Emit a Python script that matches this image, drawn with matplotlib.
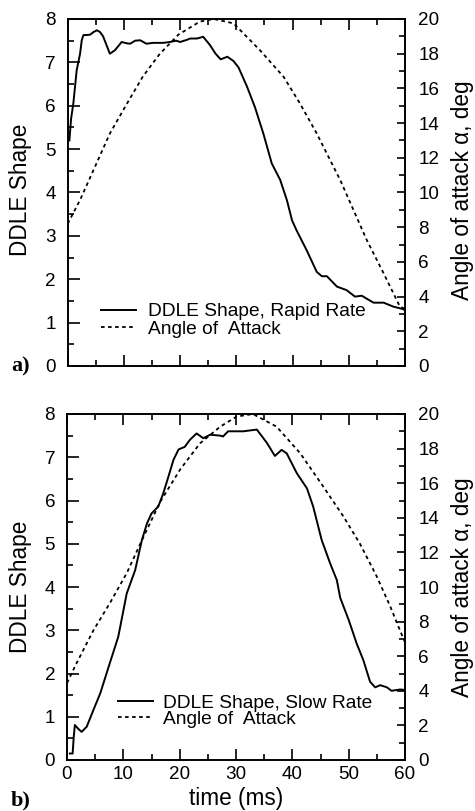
import matplotlib
matplotlib.use("Agg")
import matplotlib.pyplot as plt
from matplotlib.ticker import MultipleLocator

plt.rcParams['font.family'] = ['Liberation Sans', 'DejaVu Sans']

# ---------------- data ----------------
# panel a) rapid rate
t_rapid = [0.3, 0.6, 1.0, 1.6, 2.2, 2.5, 2.8, 3.4, 4.0, 4.6, 5.2, 5.75, 6.3, 6.9, 7.5, 8.4,
           9.6, 10.5, 11.1, 12.0, 12.9, 14.0, 15.2, 17.0, 18.2, 19.3, 20.0, 21.2, 21.8,
           23.0, 24.1, 25.3, 26.3, 27.2, 28.4, 29.5, 30.4, 31.9, 33.3, 34.8, 36.3, 37.8,
           39.0, 39.9, 40.7, 42.5, 44.3, 45.2, 46.1, 47.9, 49.6, 51.1, 52.3, 54.4, 56.2,
           57.9, 59.7, 60.0]
ddle_rapid = [5.2, 5.7, 6.05, 6.82, 7.2, 7.51, 7.63, 7.63, 7.64, 7.7, 7.74, 7.7, 7.6, 7.4,
              7.2, 7.28, 7.47, 7.44, 7.43, 7.5, 7.51, 7.43, 7.45, 7.45, 7.47, 7.5, 7.47,
              7.52, 7.55, 7.55, 7.59, 7.4, 7.2, 7.07, 7.13, 7.03, 6.88, 6.44, 5.97, 5.36,
              4.67, 4.29, 3.82, 3.36, 3.13, 2.67, 2.17, 2.07, 2.07, 1.83, 1.75, 1.6, 1.62,
              1.46, 1.46, 1.37, 1.31, 1.28]
t_aoa_rapid = [0.0, 2.2, 4.6, 7.5, 10.5, 13.4, 16.4, 19.7, 23.5, 26.0, 29.5, 34.2, 38.4,
               41.3, 44.3, 48.5, 53.2, 56.2, 59.1, 60.0]
aoa_rapid = [8.2, 9.57, 11.3, 13.4, 15.1, 16.7, 18.0, 19.1, 19.85, 20.0, 19.75, 18.2,
             16.67, 15.14, 13.4, 10.7, 7.26, 5.34, 3.42, 3.3]

# panel b) slow rate
t_slow = [0.5, 1.0, 1.2, 1.4, 2.0, 2.6, 3.5, 4.7, 5.9, 7.6, 9.1, 10.6, 12.1, 13.3, 14.2,
          15.0, 16.2, 17.1, 18.0, 18.9, 19.8, 20.9, 21.8, 23.0, 24.2, 25.4, 27.2, 27.7,
          28.6, 31.3, 33.7, 35.5, 36.9, 38.1, 39.0, 40.8, 42.6, 43.7, 45.2, 46.7, 47.9,
          48.5, 50.0, 51.4, 52.6, 53.8, 54.7, 55.6, 56.8, 57.6, 59.1, 60.0]
ddle_slow = [0.15, 0.15, 0.54, 0.81, 0.72, 0.65, 0.77, 1.16, 1.54, 2.24, 2.85, 3.85, 4.39,
             5.09, 5.47, 5.7, 5.86, 6.17, 6.55, 6.94, 7.18, 7.24, 7.4, 7.55, 7.44, 7.52,
             7.5, 7.48, 7.6, 7.6, 7.64, 7.33, 7.03, 7.17, 7.09, 6.63, 6.28, 5.86, 5.09,
             4.55, 4.16, 3.75, 3.24, 2.7, 2.31, 1.81, 1.68, 1.73, 1.68, 1.6, 1.63, 1.62]
t_aoa_slow = [0.0, 1.7, 4.7, 7.6, 10.6, 13.3, 16.5, 20.1, 23.6, 27.2, 30.1, 33.0, 37.2,
              41.4, 45.5, 49.1, 52.0, 55.0, 57.4, 59.1, 60.0]
aoa_slow = [4.45, 5.6, 7.5, 9.06, 10.8, 12.7, 14.9, 16.8, 18.3, 19.27, 19.85, 20.0, 19.27,
            17.73, 15.8, 14.06, 12.5, 10.6, 8.86, 7.5, 6.8]

x_ticks = [0, 10, 20, 30, 40, 50, 60]
left_ticks = [0, 1, 2, 3, 4, 5, 6, 7, 8]
right_ticks = [0, 2, 4, 6, 8, 10, 12, 14, 16, 18, 20]

labels_a = ["DDLE Shape, Rapid Rate", "Angle of  Attack"]
labels_b = ["DDLE Shape, Slow Rate", "Angle of  Attack"]

# ---------------- figure ----------------
W, H = 475, 811
fig = plt.figure(figsize=(W / 100, H / 100), dpi=100)

def px_axes(l, t, r, b):
    return fig.add_axes([l / W, 1 - b / H, (r - l) / W, (b - t) / H])

TICK_FS = 13.6
LAB_FS = 16.3
LEG_FS = 13.8

def setup(ax, ax2, show_xlabels):
    ax.set_xlim(0, 60)
    ax.set_ylim(0, 8)
    ax2.set_ylim(0, 20)
    ax.set_xticks(x_ticks)
    ax.xaxis.set_minor_locator(MultipleLocator(5))
    ax.set_yticks(left_ticks)
    ax.yaxis.set_minor_locator(MultipleLocator(0.5))
    ax2.set_yticks(right_ticks)
    ax2.yaxis.set_minor_locator(MultipleLocator(1))
    ax.tick_params(axis='x', which='both', direction='in', top=True, bottom=True,
                   labelbottom=show_xlabels, labelsize=TICK_FS, pad=4.5, width=1.2)
    ax.tick_params(axis='x', which='major', length=8)
    ax.tick_params(axis='x', which='minor', length=4.3)
    ax.tick_params(axis='y', which='both', direction='in', left=True, right=False,
                   labelsize=TICK_FS, pad=8.5, width=1.2)
    ax.tick_params(axis='y', which='major', length=8.5)
    ax.tick_params(axis='y', which='minor', length=4.3)
    ax2.tick_params(axis='y', which='both', direction='in', right=True, left=False,
                    labelsize=TICK_FS, pad=9.5, width=1.2)
    ax2.tick_params(axis='y', which='major', length=6)
    ax2.tick_params(axis='y', which='minor', length=4)
    for a in (ax, ax2):
        for s in a.spines.values():
            s.set_linewidth(1.2)

# panel a
axa = px_axes(67.7, 19, 405, 366)
axa2 = axa.twinx()
la, = axa.plot(t_rapid, ddle_rapid, color='black', lw=1.4, ls='-')
la2, = axa2.plot(t_aoa_rapid, aoa_rapid, color='black', lw=1.3, ls=(0, (2.0, 1.9)))
setup(axa, axa2, False)
axa2.legend([la, la2], labels_a, loc='upper left', bbox_to_anchor=(0.099, 0.182),
            frameon=False, fontsize=LEG_FS, handlelength=1.83, handletextpad=0.62,
            labelspacing=0.0, borderpad=0, borderaxespad=0)

# panel b
axb = px_axes(67, 414, 405, 760)
axb2 = axb.twinx()
lb, = axb.plot(t_slow, ddle_slow, color='black', lw=1.4, ls='-')
lb2, = axb2.plot(t_aoa_slow, aoa_slow, color='black', lw=1.3, ls=(0, (2.0, 1.9)))
setup(axb, axb2, True)
axb2.legend([lb, lb2], labels_b, loc='upper left', bbox_to_anchor=(0.151, 0.19),
            frameon=False, fontsize=LEG_FS, handlelength=1.83, handletextpad=0.52,
            labelspacing=-0.07, borderpad=0, borderaxespad=0)

# axis labels
for yc in (190, 587):
    fig.text(21 / W, 1 - yc / H, "DDLE Shape", rotation=90, ha='center', va='center',
             fontsize=LAB_FS)
    fig.text(463 / W, 1 - yc / H, "Angle of attack \u03b1, deg", rotation=90,
             ha='center', va='center', fontsize=LAB_FS)
fig.text(236 / W, 1 - 799 / H, "time (ms)", ha='center', va='center', fontsize=LAB_FS)

fig.text(11 / W, 1 - 366 / H, "a)", ha='left', va='center', fontsize=16,
         fontweight='bold', family=['Liberation Serif', 'DejaVu Serif'])
fig.text(11 / W, 1 - 800 / H, "b)", ha='left', va='center', fontsize=16,
         fontweight='bold', family=['Liberation Serif', 'DejaVu Serif'])

fig.savefig("out.png", dpi=100)
